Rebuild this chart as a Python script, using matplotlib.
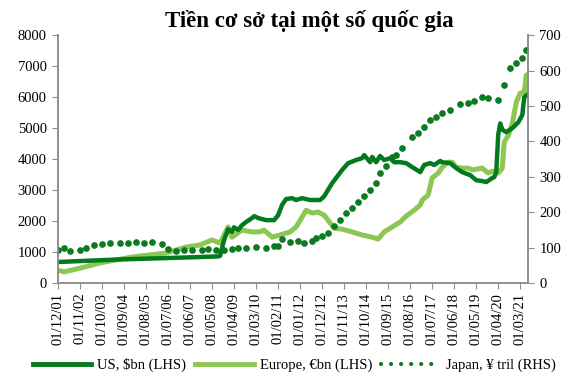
import matplotlib
matplotlib.use("Agg")
import matplotlib.pyplot as plt
import matplotlib.dates as mdates
from matplotlib.lines import Line2D
import pandas as pd

# US base money, $bn (LHS)
us_dates = ['2001-12', '2004-06', '2007-06', '2008-08', '2008-09', '2008-11', '2009-01', '2009-03',
            '2009-04', '2009-06', '2009-08', '2009-10', '2010-01', '2010-02', '2010-04', '2010-08',
            '2010-12', '2011-02', '2011-04', '2011-06', '2011-09', '2011-11', '2012-02', '2012-06',
            '2012-11', '2013-01', '2013-05', '2013-10', '2014-01', '2014-05', '2014-08', '2014-09',
            '2014-12', '2015-01', '2015-03', '2015-05', '2015-07', '2015-10', '2015-12', '2016-03',
            '2016-06', '2016-09', '2017-01', '2017-03', '2017-06', '2017-08', '2017-11', '2017-12',
            '2018-04', '2018-07', '2018-10', '2019-02', '2019-05', '2019-08', '2019-10', '2020-01',
            '2020-02', '2020-03', '2020-04', '2020-05', '2020-06', '2020-08', '2020-11', '2021-02',
            '2021-04', '2021-05', '2021-07']
us_vals = [680, 760, 830, 860, 880, 1390, 1740, 1650,
           1800, 1710, 1870, 1970, 2100, 2160, 2100, 2030,
           2030, 2190, 2520, 2710, 2740, 2680, 2740, 2680,
           2680, 2800, 3220, 3650, 3870, 3970, 4030, 4130,
           3900, 4070, 3900, 4100, 3970, 4030, 3900, 3900,
           3870, 3740, 3580, 3810, 3870, 3810, 3940, 3900,
           3870, 3710, 3580, 3480, 3320, 3290, 3260, 3390,
           3420, 3580, 4800, 5150, 4950, 4870, 5000, 5190,
           5420, 6000, 6100]

# Europe base money, EUR bn (LHS)
eu_dates = ['2001-12', '2002-03', '2002-11', '2003-09', '2005-01', '2006-06', '2007-04', '2007-11',
            '2008-05', '2008-09', '2009-01', '2009-03', '2009-08', '2010-01', '2010-05', '2010-07',
            '2010-11', '2011-03', '2011-08', '2011-11', '2012-02', '2012-04', '2012-07', '2012-10',
            '2013-01', '2013-04', '2013-06', '2013-10', '2014-03', '2014-08', '2015-01', '2015-04',
            '2015-07', '2015-11', '2016-03', '2016-06', '2016-10', '2017-01', '2017-02', '2017-05',
            '2017-07', '2017-10', '2017-12', '2018-03', '2018-05', '2018-07', '2018-10', '2019-01',
            '2019-03', '2019-08', '2019-11', '2020-01', '2020-04', '2020-06', '2020-07', '2020-09',
            '2020-11', '2021-01', '2021-03', '2021-05', '2021-06', '2021-07']
eu_vals = [420, 360, 480, 650, 840, 970, 1160, 1230,
           1390, 1290, 1810, 1480, 1710, 1650, 1650, 1710,
           1480, 1550, 1650, 1810, 2130, 2350, 2260, 2290,
           2190, 1940, 1770, 1740, 1650, 1550, 1480, 1420,
           1650, 1810, 1970, 2160, 2350, 2520, 2680, 2840,
           3390, 3550, 3740, 3900, 3900, 3740, 3710, 3710,
           3650, 3710, 3550, 3610, 3550, 3710, 4550, 4770,
           5160, 5840, 6130, 6160, 6710, 6740]

# Japan base money, JPY tril (RHS)
jp_dates = ['2001-12', '2002-03', '2002-06', '2002-11', '2003-02', '2003-06', '2003-10', '2004-02',
            '2004-07', '2004-11', '2005-03', '2005-07', '2005-11', '2006-04', '2006-07', '2006-11',
            '2007-03', '2007-07', '2007-12', '2008-03', '2008-07', '2008-11', '2009-03', '2009-06',
            '2009-10', '2010-03', '2010-08', '2010-12', '2011-02', '2011-04', '2011-08', '2011-12',
            '2012-03', '2012-07', '2012-09', '2012-12', '2013-03', '2013-06', '2013-09', '2013-12',
            '2014-03', '2014-06', '2014-09', '2014-12', '2015-03', '2015-05', '2015-08', '2015-11',
            '2016-01', '2016-04', '2016-09', '2016-12', '2017-03', '2017-06', '2017-09', '2017-12',
            '2018-04', '2018-09', '2019-01', '2019-04', '2019-08', '2019-11', '2020-04', '2020-07',
            '2020-10', '2021-01', '2021-04', '2021-06']
jp_vals = [93, 99, 90, 93, 99, 107, 110, 113,
           113, 113, 116, 113, 116, 110, 96, 90,
           93, 93, 93, 96, 93, 93, 96, 99,
           99, 102, 99, 104, 104, 124, 115, 118,
           113, 118, 127, 133, 141, 161, 178, 198,
           212, 229, 246, 262, 282, 310, 330, 356,
           361, 381, 412, 423, 440, 460, 469, 480,
           488, 505, 508, 514, 525, 522, 516, 559,
           607, 621, 635, 658]

title = "Tiền cơ sở tại một số quốc gia"
labels = ["US, $bn (LHS)", "Europe, €bn (LHS)", "Japan, ¥ tril (RHS)"]

c_us = '#037a1d'
c_eu = '#8cc653'
c_jp = '#0b7a20'
c_ax = '#8f8f8f'

plt.rcParams['font.family'] = ['Liberation Serif', 'DejaVu Serif']
plt.rcParams['font.size'] = 10.5

fig = plt.figure(figsize=(5.85, 3.82), dpi=100)
ax = fig.add_axes([0.099, 0.259, 0.804, 0.649])
ax2 = ax.twinx()

us_x = pd.to_datetime(us_dates)
eu_x = pd.to_datetime(eu_dates)
jp_x = pd.to_datetime(jp_dates)

ax.plot(us_x, us_vals, color=c_us, lw=3.2, solid_joinstyle='round', zorder=3)
ax.plot(eu_x, eu_vals, color=c_eu, lw=3.6, solid_joinstyle='round', zorder=2)
ax2.plot(jp_x, jp_vals, linestyle='none', marker='o', markersize=3.8, color=c_jp)

ax.set_ylim(0, 8000)
ax.set_yticks(range(0, 8001, 1000))
ax2.set_ylim(0, 700)
ax2.set_yticks(range(0, 701, 100))

ax.set_xlim(pd.Timestamp('2001-12-01'), pd.Timestamp('2021-07-01'))
ticks = pd.date_range('2001-12-01', periods=22, freq='11MS')
ax.set_xticks(ticks)
ax.xaxis.set_major_formatter(mdates.DateFormatter('%d/%m/%y'))
ax.tick_params(axis='x', rotation=90, length=4, color=c_ax, pad=3)
ax.tick_params(axis='y', length=4, color=c_ax, pad=4)
ax2.tick_params(axis='y', length=4, color=c_ax, pad=4)

for a in (ax, ax2):
    a.spines['top'].set_visible(False)
    for s in ('left', 'right', 'bottom'):
        a.spines[s].set_color(c_ax)
        a.spines[s].set_linewidth(1.2)

fig.text(0.528, 0.945, title, ha='center', va='center', fontsize=16.5, fontweight='bold')

handles = [
    Line2D([], [], color=c_us, lw=3.5),
    Line2D([], [], color=c_eu, lw=3.5),
    Line2D([], [], color=c_jp, lw=3.0, linestyle=(0, (0.01, 2.4)), dash_capstyle='round'),
]
fig.legend(handles, labels, loc='center', bbox_to_anchor=(0.503, 0.045), ncol=3,
           frameon=False, handlelength=4.0, columnspacing=0.6, handletextpad=0.45,
           fontsize=10.5)

fig.savefig('out.png', dpi=100)
